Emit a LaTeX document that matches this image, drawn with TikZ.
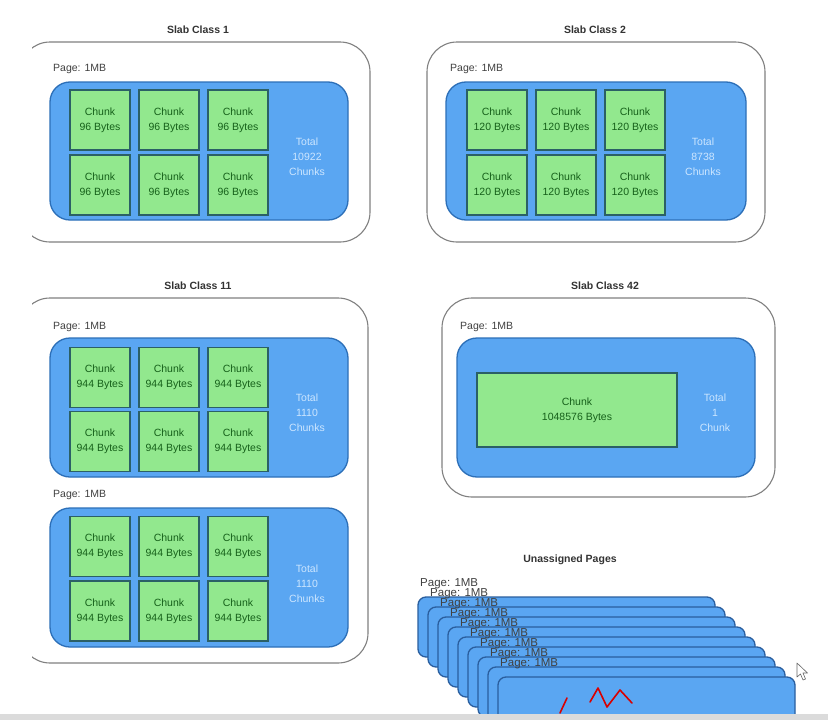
\documentclass[tikz,border=0pt]{standalone}
\usepackage{fontspec}
\setmainfont{Liberation Sans}
\begin{document}
\begin{tikzpicture}[x=1pt,y=-1pt,
  outerbox/.style={draw=black!50,line width=1.1pt,rounded corners=30pt},
  pagebox/.style={draw=pagedraw,fill=pagefill,line width=1.3pt,rounded corners=20pt},
  chunkbox/.style={draw=chunkdraw,fill=chunkfill,line width=1.3pt,minimum width=60pt,minimum height=60pt,
    align=center,font=\fontsize{10.5}{15}\selectfont,text=chunktext,inner sep=0pt},
  title/.style={font=\bfseries\fontsize{10.5}{12}\selectfont,text=black!80},
  pagelabel/.style={anchor=west,font=\fontsize{10.5}{12}\selectfont,text=black!75,inner sep=0pt},
  totallabel/.style={align=center,font=\fontsize{10.5}{15}\selectfont,text=totaltext},
  stackpage/.style={draw=stackdraw,fill=pagefill,line width=1.3pt,rounded corners=8pt},
  stacklabel/.style={anchor=west,font=\fontsize{11.5}{12}\selectfont,text=black!75,inner sep=0pt}]
\definecolor{pagefill}{HTML}{5AA6F2}
\definecolor{pagedraw}{HTML}{2C6FB8}
\definecolor{stackdraw}{HTML}{2A5E9E}
\definecolor{chunkfill}{HTML}{92E88E}
\definecolor{chunkdraw}{HTML}{2B6066}
\definecolor{chunktext}{HTML}{16601A}
\definecolor{totaltext}{HTML}{CDE6FF}
\useasboundingbox (0,0) rectangle (828,720);
\clip (0,0) rectangle (828,720);
\fill[white] (0,0) rectangle (828,720);

% ---------- Slab Class 1 ----------
\node[title] (t1) at (198,30) {Slab Class 1};
\begin{scope}
  \clip (32,0) rectangle (828,260);
  \draw[outerbox] (20,42) rectangle (370,242);
\end{scope}
\node[pagelabel] (p1) at (53,69) {Page: 1MB};
\draw[pagebox] (50,82) rectangle (348,220);
\foreach \i/\x in {1/100,2/169,3/238}{
  \node[chunkbox] (s1a\i) at (\x,120) {Chunk\\96 Bytes};
  \node[chunkbox] (s1b\i) at (\x,185) {Chunk\\96 Bytes};
}
\node[totallabel] (tot1) at (307,157) {Total\\10922\\Chunks};

% ---------- Slab Class 2 ----------
\node[title] (t2) at (595,30) {Slab Class 2};
\draw[outerbox] (427,42) rectangle (765,242);
\node[pagelabel] (p2) at (450,69) {Page: 1MB};
\draw[pagebox] (446,82) rectangle (746,220);
\foreach \i/\x in {1/497,2/566,3/635}{
  \node[chunkbox] (s2a\i) at (\x,120) {Chunk\\120 Bytes};
  \node[chunkbox] (s2b\i) at (\x,185) {Chunk\\120 Bytes};
}
\node[totallabel] (tot2) at (703,157) {Total\\8738\\Chunks};

% ---------- Slab Class 11 ----------
\node[title] (t11) at (198,286) {Slab Class 11};
\begin{scope}
  \clip (32,260) rectangle (828,700);
  \draw[outerbox] (20,298) rectangle (368,663);
\end{scope}
\node[pagelabel] (p11a) at (53,327) {Page: 1MB};
\draw[pagebox] (50,338) rectangle (348,477);
\foreach \i/\x in {1/100,2/169,3/238}{
  \node[chunkbox] (s11a\i) at (\x,377.5) {Chunk\\944 Bytes};
  \node[chunkbox] (s11b\i) at (\x,441.5) {Chunk\\944 Bytes};
}
\node[totallabel] (tot11a) at (307,413) {Total\\1110\\Chunks};
\node[pagelabel] (p11b) at (53,495) {Page: 1MB};
\draw[pagebox] (50,508) rectangle (348,647);
\foreach \i/\x in {1/100,2/169,3/238}{
  \node[chunkbox] (s11c\i) at (\x,546.5) {Chunk\\944 Bytes};
  \node[chunkbox] (s11d\i) at (\x,611) {Chunk\\944 Bytes};
}
\node[totallabel] (tot11b) at (307,584) {Total\\1110\\Chunks};

% ---------- Slab Class 42 ----------
\node[title] (t42) at (605,286) {Slab Class 42};
\draw[outerbox] (442,298) rectangle (775,497);
\node[pagelabel] (p42) at (460,327) {Page: 1MB};
\draw[pagebox] (457,338) rectangle (755,477);
\node[chunkbox,minimum width=200pt,minimum height=74pt] (s42) at (577,410) {Chunk\\1048576 Bytes};
\node[totallabel] (tot42) at (715,413) {Total\\1\\Chunk};

% ---------- Unassigned Pages ----------
\node[title] (tu) at (570,560) {Unassigned Pages};
\foreach \k in {0,...,8}{
  \draw[stackpage] ({418+10*\k},{597+10*\k}) rectangle ({715+10*\k},{657+10*\k});
  \node[stacklabel] (u\k) at ({420+10*\k},{584+10*\k}) {Page: 1MB};
}

% ---------- hand-drawn red marks ----------
\draw[red!85!black,line width=1.6pt,line cap=round] (560,713) -- (567,698);
\draw[red!85!black,line width=1.6pt,line cap=round,line join=round]
  (590,702) -- (598,688) -- (607,707) -- (620,690) -- (632,703);

% ---------- mouse cursor ----------
\draw[fill=white,draw=black!60,line width=0.6pt,line join=round]
  (797,663) -- (797,677) -- (800.5,674) -- (803,680) -- (805.5,679) -- (803,673) -- (807.5,673) -- cycle;

% ---------- bottom bar ----------
\fill[black!14] (0,714) rectangle (828,720);
\end{tikzpicture}
\end{document}
